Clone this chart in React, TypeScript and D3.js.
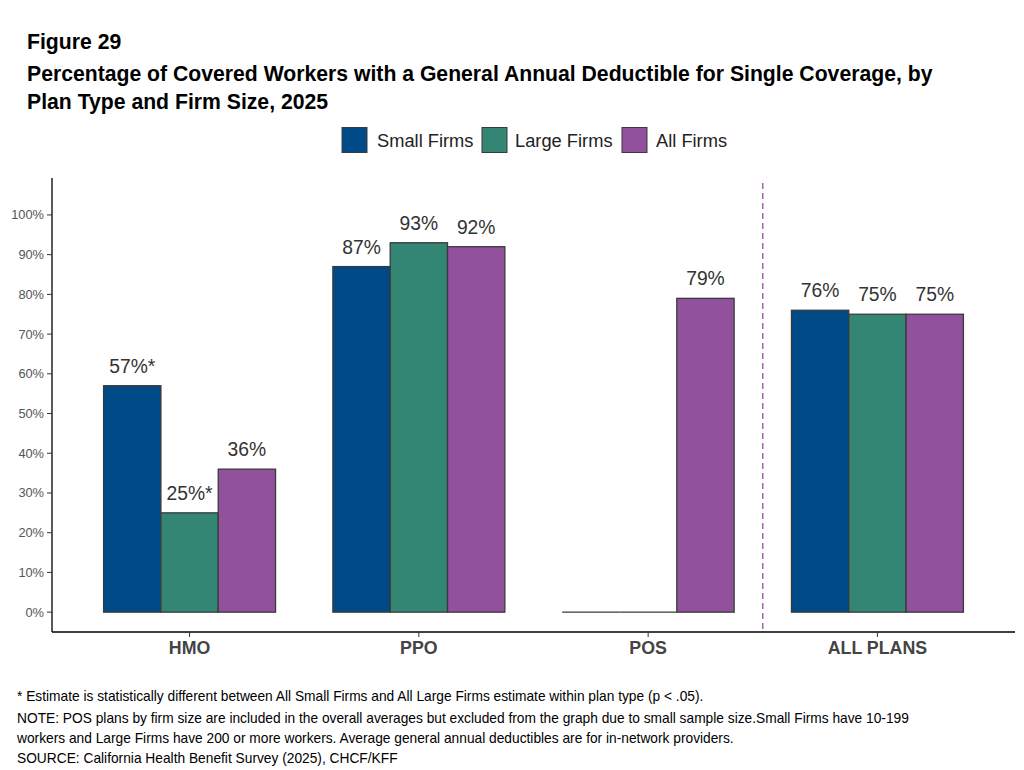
import React from "react";
import * as d3 from "d3";

const categories = ["HMO", "PPO", "POS", "ALL PLANS"];
const seriesNames = ["Small Firms", "Large Firms", "All Firms"];
const seriesColors = ["#004A87", "#338673", "#91519D"];
const smallFirms = [57, 87, 0, 76];
const largeFirms = [25, 93, 0, 75];
const allFirms = [36, 92, 79, 75];
const smallLabels = ["57%*", "87%", "", "76%"];
const largeLabels = ["25%*", "93%", "", "75%"];
const allLabels = ["36%", "92%", "79%", "75%"];
const yTicks = [0, 10, 20, 30, 40, 50, 60, 70, 80, 90, 100];
const footnotes = [
  "* Estimate is statistically different between All Small Firms and All Large Firms estimate within plan type (p < .05).",
  "NOTE: POS plans by firm size are included in the overall averages but excluded from the graph due to small sample size.Small Firms have 10-199",
  "workers and Large Firms have 200 or more workers. Average general annual deductibles are for in-network providers.",
  "SOURCE: California Health Benefit Survey (2025), CHCF/KFF",
];

export default function App() {
  const W = 1024, H = 770;
  const left = 52, right = 1015, top = 178, bottom = 632;
  const y = d3.scaleLinear().domain([-5, 109.3]).range([bottom, top]);
  const unit = (right - left) / 4.2;
  const x = d3.scaleLinear().domain([-0.6, 3.6]).range([left, right]);
  const barW = unit * 0.75 / 3;
  const series = [smallFirms, largeFirms, allFirms];
  const labels = [smallLabels, largeLabels, allLabels];
  const font = "Arial, 'Liberation Sans', sans-serif";
  const stroke = "#3a3a3a";
  const legendItems = [
    { x: 342, tx: 377 },
    { x: 482, tx: 515 },
    { x: 622, tx: 656 },
  ];
  return (
    <svg width={W} height={H} style={{ display: "block", position: "absolute", left: 0, top: 0 }} fontFamily={font}>
      <rect width={W} height={H} fill="#fff" />
      <text x={27} y={49} fontSize={21.2} fontWeight="bold" fill="#000">Figure 29</text>
      <text x={27} y={81} fontSize={21.2} fontWeight="bold" fill="#000">Percentage of Covered Workers with a General Annual Deductible for Single Coverage, by</text>
      <text x={27} y={109} fontSize={21.2} fontWeight="bold" fill="#000">Plan Type and Firm Size, 2025</text>
      {seriesNames.map((s, i) => (
        <g key={s}>
          <rect x={legendItems[i].x} y={127.5} width={25} height={25} fill={seriesColors[i]} stroke={stroke} strokeWidth={1} />
          <text x={legendItems[i].tx} y={146.5} fontSize={18.3} fill="#222">{s}</text>
        </g>
      ))}
      {/* y axis */}
      <line x1={left} x2={left} y1={top} y2={bottom} stroke="#000" strokeWidth={1.3} />
      {yTicks.map((t) => (
        <g key={t}>
          <line x1={left - 5} x2={left} y1={y(t)} y2={y(t)} stroke="#333" strokeWidth={1} />
          <text x={left - 8} y={y(t) + 4.5} fontSize={12.8} fill="#555" textAnchor="end">{t}%</text>
        </g>
      ))}
      {/* x axis */}
      <line x1={left} x2={right} y1={bottom} y2={bottom} stroke="#000" strokeWidth={1.3} />
      {categories.map((c, i) => (
        <g key={c}>
          <line x1={x(i)} x2={x(i)} y1={bottom} y2={bottom + 5} stroke="#333" strokeWidth={1} />
          <text x={x(i)} y={654} fontSize={17.8} fontWeight="bold" fill="#444" textAnchor="middle">{c}</text>
        </g>
      ))}
      <line x1={x(2.5)} x2={x(2.5)} y1={183} y2={bottom} stroke="#91519D" strokeWidth={1.3} strokeDasharray="6,4" />
      {series.map((vals, si) =>
        vals.map((v, ci) => {
          const bx = x(ci) - 1.5 * barW + si * barW;
          return (
            <g key={`${si}-${ci}`}>
              {v > 0 ? (
                <rect x={bx} y={y(v)} width={barW} height={y(0) - y(v)} fill={seriesColors[si]} stroke={stroke} strokeWidth={1.3} />
              ) : (
                <line x1={bx} x2={bx + barW} y1={y(0)} y2={y(0)} stroke={stroke} strokeWidth={1.3} />
              )}
              {labels[si][ci] && (
                <text x={bx + barW / 2} y={y(v) - 13} fontSize={19.3} fill="#333" textAnchor="middle">{labels[si][ci]}</text>
              )}
            </g>
          );
        })
      )}
      {footnotes.map((f, i) => (
        <text key={i} x={17} y={[700.5, 722.5, 742.5, 762.5][i]} fontSize={13.75} fill="#000">{f}</text>
      ))}
    </svg>
  );
}
